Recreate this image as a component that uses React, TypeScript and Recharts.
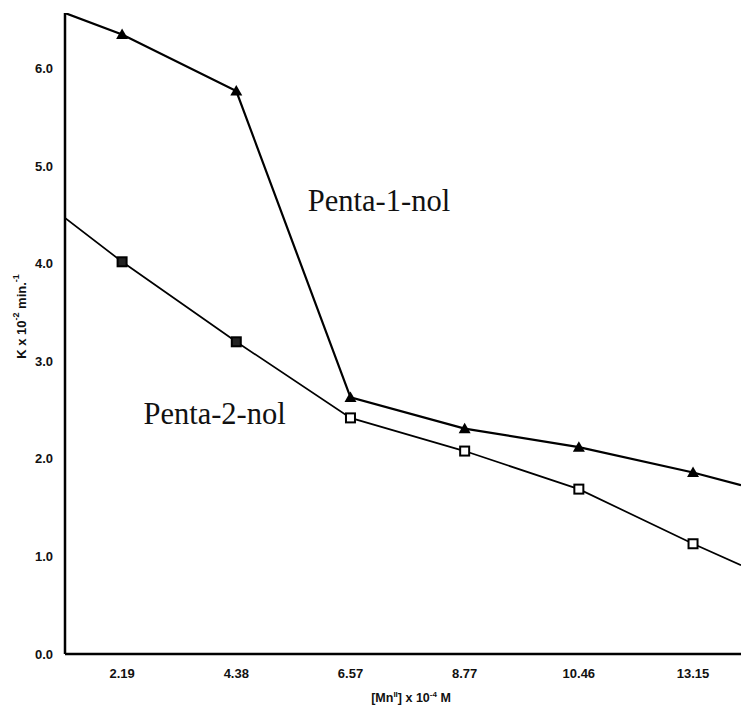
import { LineChart, Line, XAxis, YAxis, ReferenceDot, Label } from "recharts";

// x categories: [Mn(II)] x 10^-4 M
const categories = ["2.19", "4.38", "6.57", "8.77", "10.46", "13.15"];
// K x 10^-2 min^-1 at each concentration
const penta1 = [6.35, 5.77, 2.63, 2.31, 2.12, 1.86];
const penta2 = [4.02, 3.2, 2.42, 2.08, 1.69, 1.13];
// line run-in / run-out values at the plot edges (no markers there)
const penta1Ends = [6.57, 1.73];
const penta2Ends = [4.47, 0.91];
const yTicks = [0, 1, 2, 3, 4, 5, 6];

const X_MIN = -0.5;
const X_MAX = 5.42;
const Y_MAX = 6.57;

const rows = [
  { x: X_MIN, p1: penta1Ends[0], p2: penta2Ends[0], edge: true },
  ...categories.map((_, i) => ({ x: i, p1: penta1[i], p2: penta2[i], edge: false })),
  { x: X_MAX, p1: penta1Ends[1], p2: penta2Ends[1], edge: true },
];

const tickFont = { fontFamily: "Liberation Sans, Arial, sans-serif", fontSize: 13, fontWeight: 700, fill: "#111" };

const TriangleDot = (props: any) => {
  const { cx, cy, payload, index } = props;
  if (payload?.edge || cx == null) return <g key={`t-${index}`} />;
  return (
    <path
      key={`t-${index}`}
      d={`M${cx},${cy - 6} L${cx + 6},${cy + 4.5} L${cx - 6},${cy + 4.5} Z`}
      fill="#000"
    />
  );
};

const SquareDot = (props: any) => {
  const { cx, cy, payload, index } = props;
  if (payload?.edge || cx == null) return <g key={`s-${index}`} />;
  const dark = index <= 2;
  return (
    <rect
      key={`s-${index}`}
      x={cx - 4.5}
      y={cy - 4.5}
      width={9}
      height={9}
      fill={dark ? "#222" : "#fff"}
      stroke="#000"
      strokeWidth={2}
    />
  );
};

const YTitle = ({ viewBox }: any) => {
  const x = viewBox.x + 21;
  const y = viewBox.y + viewBox.height / 2 - 17;
  return (
    <text
      x={x}
      y={y}
      transform={`rotate(-90, ${x}, ${y})`}
      textAnchor="middle"
      dominantBaseline="central"
      {...tickFont}
    >
      K x 10
      <tspan fontSize={9} dy={-5}>-2</tspan>
      <tspan dy={5}> min.</tspan>
      <tspan fontSize={9} dy={-5}>-1</tspan>
    </text>
  );
};

const XTitle = ({ viewBox }: any) => {
  const x = viewBox.x + viewBox.width / 2 + 8;
  const y = viewBox.y + 48;
  return (
    <text x={x} y={y} textAnchor="middle" {...tickFont} fontSize={12.5}>
      [Mn
      <tspan fontSize={8} dy={-5}>II</tspan>
      <tspan dy={5}>] x 10</tspan>
      <tspan fontSize={8} dy={-5}>-4</tspan>
      <tspan dy={5}> M</tspan>
    </text>
  );
};

const serif = { fontFamily: "Liberation Serif, Times New Roman, serif", fontSize: 30.5, fill: "#111" };

export default function App() {
  return (
    <div style={{ position: "absolute", left: 0, top: 0, background: "#fff" }}>
      <LineChart width={741} height={709} data={rows} margin={{ top: 13, right: 0, bottom: 0, left: 0 }}>
        <XAxis
          dataKey="x"
          type="number"
          domain={[X_MIN, X_MAX]}
          ticks={categories.map((_, i) => i)}
          tickFormatter={(v: number) => categories[v] ?? ""}
          allowDataOverflow
          height={55}
          tickLine={false}
          tickSize={0}
          tickMargin={15}
          axisLine={{ stroke: "#000", strokeWidth: 2.5 }}
          tick={tickFont}
          label={<XTitle />}
        />
        <YAxis
          type="number"
          domain={[0, Y_MAX]}
          ticks={yTicks}
          tickFormatter={(v: number) => v.toFixed(1)}
          allowDataOverflow
          width={65}
          tickLine={false}
          tickSize={0}
          tickMargin={12}
          axisLine={{ stroke: "#000", strokeWidth: 2.5 }}
          tick={tickFont}
          label={<YTitle />}
        />
        <Line
          type="linear"
          dataKey="p1"
          stroke="#000"
          strokeWidth={2.2}
          dot={TriangleDot}
          activeDot={false}
          isAnimationActive={false}
        />
        <Line
          type="linear"
          dataKey="p2"
          stroke="#000"
          strokeWidth={1.7}
          dot={SquareDot}
          activeDot={false}
          isAnimationActive={false}
        />
        <ReferenceDot x={2.25} y={4.65} r={0} fill="none" stroke="none">
          <Label value="Penta-1-nol" position="center" {...serif} />
        </ReferenceDot>
        <ReferenceDot x={0.81} y={2.47} r={0} fill="none" stroke="none">
          <Label value="Penta-2-nol" position="center" {...serif} />
        </ReferenceDot>
      </LineChart>
    </div>
  );
}
